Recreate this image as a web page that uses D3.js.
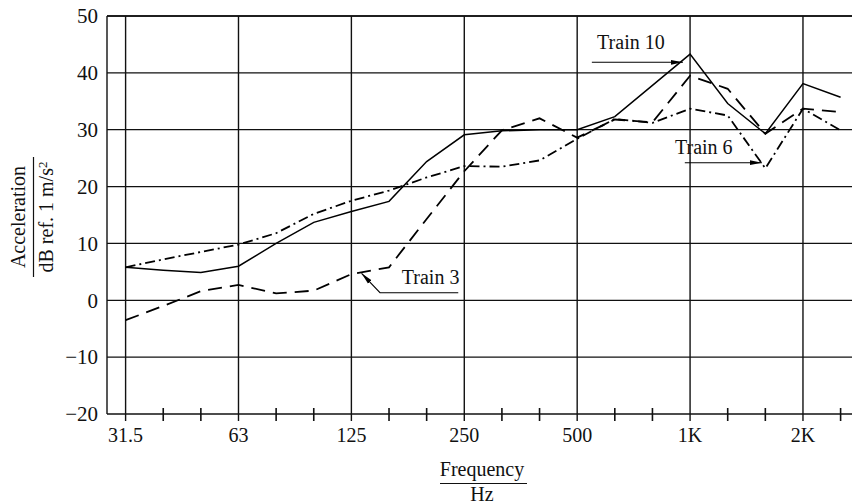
<!DOCTYPE html>
<html>
<head>
<meta charset="utf-8">
<script src="https://cdn.jsdelivr.net/npm/d3@7"></script>
<style>
  html, body { margin: 0; padding: 0; background: #fff; }
  svg { display: block; }
  text { font-family: "Liberation Serif", "DejaVu Serif", serif; fill: #111; }
</style>
</head>
<body>
<svg id="chart" width="854" height="504"></svg>
<script>
// ---- data ----
const bands = ["31.5","40","50","63","80","100","125","160","200","250","315","400","500","630","800","1K","1.25K","1.6K","2K","2.5K"];
const labelledBands = ["31.5","63","125","250","500","1K","2K"];
const train10 = [5.8, 5.3, 4.9, 6.0, 10.0, 13.7, 15.6, 17.4, 24.4, 29.1, 29.8, 30.0, 30.0, 32.3, 37.8, 43.3, 34.6, 29.3, 38.1, 35.7];
const train6  = [5.8, 7.2, 8.5, 9.8, 11.8, 15.2, 17.5, 19.3, 21.6, 23.6, 23.5, 24.6, 28.4, 31.9, 31.2, 33.7, 32.5, 23.2, 33.7, 29.9];
const train3  = [-3.5, -1.0, 1.6, 2.7, 1.2, 1.7, 4.6, 5.8, 14.3, 22.7, 29.9, 32.0, 28.6, 31.8, 31.3, 39.5, 37.2, 29.3, 33.7, 33.1];
const yTicks = [-20, -10, 0, 10, 20, 30, 40, 50];

// ---- layout ----
const mLeft = 107, mRight = 852, mTop = 16, mBottom = 414;
const svg = d3.select("#chart");

const x = d3.scalePoint().domain(bands).range([125.6, 840.6]).padding(0);
const step = x.step();
const xi = i => x(bands[0]) + i * step;       // fractional band index -> px
const y = d3.scaleLinear().domain([-20, 50]).range([mBottom, mTop]);

// horizontal gridlines
svg.append("g").selectAll("line").data(yTicks.filter(v => v > -20)).join("line")
  .attr("x1", mLeft).attr("x2", mRight)
  .attr("y1", d => y(d)).attr("y2", d => y(d))
  .attr("stroke", "#111").attr("stroke-width", 1.3);

// vertical gridlines at octave bands
svg.append("g").selectAll("line").data(labelledBands).join("line")
  .attr("x1", d => x(d)).attr("x2", d => x(d))
  .attr("y1", mTop).attr("y2", mBottom + 7)
  .attr("stroke", "#111").attr("stroke-width", 1.4);

// minor ticks on x axis
svg.append("g").selectAll("line").data(bands.filter(b => !labelledBands.includes(b))).join("line")
  .attr("x1", d => x(d)).attr("x2", d => x(d))
  .attr("y1", mBottom - 6).attr("y2", mBottom + 7)
  .attr("stroke", "#111").attr("stroke-width", 1.6);

// frame: left, top, bottom axis
svg.append("line").attr("x1", mLeft).attr("x2", mLeft).attr("y1", mTop).attr("y2", mBottom)
  .attr("stroke", "#111").attr("stroke-width", 1.4);
svg.append("line").attr("x1", mLeft).attr("x2", mRight).attr("y1", mTop).attr("y2", mTop)
  .attr("stroke", "#111").attr("stroke-width", 1.4);
svg.append("line").attr("x1", mLeft).attr("x2", mRight).attr("y1", mBottom).attr("y2", mBottom)
  .attr("stroke", "#111").attr("stroke-width", 1.6);

// y tick labels
svg.append("g").selectAll("text").data(yTicks).join("text")
  .attr("x", 98).attr("y", d => y(d)).attr("dy", "0.35em")
  .attr("text-anchor", "end").attr("font-size", 21)
  .text(d => d < 0 ? "\u2212" + Math.abs(d) : d);

// x tick labels
svg.append("g").selectAll("text").data(labelledBands).join("text")
  .attr("x", d => x(d)).attr("y", 442)
  .attr("text-anchor", "middle").attr("font-size", 20)
  .text(d => d);

// axis titles
const xt = svg.append("g");
xt.append("text").attr("x", 482).attr("y", 476).attr("text-anchor", "middle").attr("font-size", 20).text("Frequency");
xt.append("line").attr("x1", 440).attr("x2", 527).attr("y1", 483.5).attr("y2", 483.5).attr("stroke", "#111").attr("stroke-width", 1.2);
xt.append("text").attr("x", 482).attr("y", 501).attr("text-anchor", "middle").attr("font-size", 20).text("Hz");

const yt = svg.append("g");
yt.append("text").attr("transform", "translate(25,217) rotate(-90)").attr("text-anchor", "middle").attr("font-size", 20).text("Acceleration");
yt.append("line").attr("x1", 33.5).attr("x2", 33.5).attr("y1", 157).attr("y2", 277).attr("stroke", "#111").attr("stroke-width", 1.2);
const yt2 = yt.append("text").attr("transform", "translate(53,217) rotate(-90)").attr("text-anchor", "middle").attr("font-size", 20);
yt2.append("tspan").text("dB ref. 1 m/s");
yt2.append("tspan").attr("dy", "-0.45em").attr("font-size", 13).text("2");

// series lines
const line = d3.line().x((d, i) => x(bands[i])).y(d => y(d));
const series = [
  { name: "Train 10", values: train10, dash: null, width: 1.5 },
  { name: "Train 6", values: train6, dash: "10,4,2,4", width: 1.8 },
  { name: "Train 3", values: train3, dash: "14,8", width: 1.8 }
];
svg.append("g").selectAll("path").data(series).join("path")
  .attr("d", d => line(d.values))
  .attr("fill", "none").attr("stroke", "#000")
  .attr("stroke-width", d => d.width)
  .attr("stroke-dasharray", d => d.dash)
  .attr("stroke-linejoin", "miter");

// annotations (positions in band index / dB units)
const defs = svg.append("defs");
defs.append("marker").attr("id", "arr").attr("viewBox", "0 0 12 6")
  .attr("refX", 12).attr("refY", 3).attr("markerWidth", 12).attr("markerHeight", 6)
  .attr("markerUnits", "userSpaceOnUse").attr("orient", "auto")
  .append("path").attr("d", "M0,0.6 L12,3 L0,5.4 Z").attr("fill", "#000");

const annotations = [
  { label: "Train 10", tx: 12.53, ty: 44.2, path: [[12.39, 41.86], [14.81, 41.86]] },
  { label: "Train 6",  tx: 14.60, ty: 25.73, path: [[14.86, 24.2], [16.91, 24.2]] },
  { label: "Train 3",  tx: 7.34,  ty: 2.86, path: [[8.84, 1.33], [6.76, 1.33], [6.27, 4.75]] }
];
const ag = svg.append("g");
annotations.forEach(a => {
  ag.append("text").attr("x", xi(a.tx)).attr("y", y(a.ty)).attr("font-size", 20).text(a.label);
  ag.append("path")
    .attr("d", d3.line().x(p => xi(p[0])).y(p => y(p[1]))(a.path))
    .attr("fill", "none").attr("stroke", "#000").attr("stroke-width", 1.1)
    .attr("marker-end", "url(#arr)");
});
</script>
</body>
</html>
